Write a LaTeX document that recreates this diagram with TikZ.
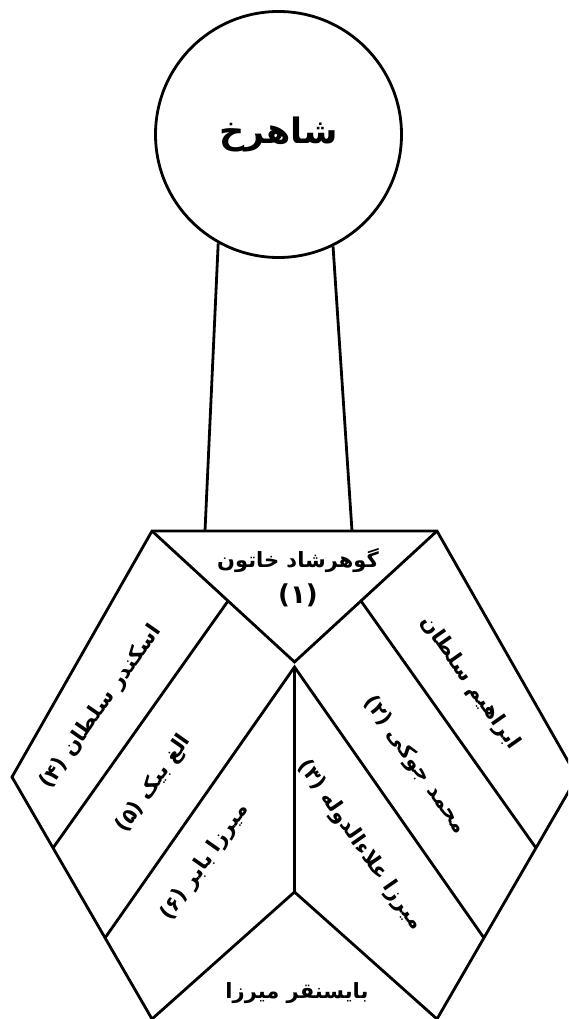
\documentclass[tikz,border=0pt]{standalone}
\usepackage{fontspec}
\newfontfamily\ar[Script=Arabic]{DejaVu Sans}
\TeXXeTstate=1
\begin{document}
\begin{tikzpicture}[x=1pt,y=-1pt,
  edge/.style={line width=2.8pt, line join=miter},
  lbl/.style={font=\ar\bfseries\fontsize{21}{36}\selectfont, inner sep=0pt, align=center},
  leftlbl/.style={lbl, rotate=55},
  rightlbl/.style={lbl, rotate=-55}]
\useasboundingbox (0,0) rectangle (568,1019);
\clip (0,0) rectangle (568,1019);
% root circle
\node[circle, draw, line width=2.8pt, minimum size=246pt, inner sep=0pt,
      font=\ar\bfseries\fontsize{35}{40}\selectfont] (sh) at (278.5,134.5) {\beginR شاهرخ\endR};
% key points
\coordinate (P1) at (205,531);
\coordinate (P2) at (352,531);
\coordinate (TL) at (152,531);
\coordinate (TR) at (437,531);
\coordinate (L)  at (12,777);
\coordinate (R)  at (577,777);
\coordinate (BL) at (152,1019);
\coordinate (BR) at (437,1019);
\coordinate (Ap) at (294.5,662);
\coordinate (J)  at (294.5,667);
\coordinate (Vb) at (294.5,892);
\coordinate (A1) at (228,601);
\coordinate (A2) at (53,848);
\coordinate (C1) at (361,601);
\coordinate (C2) at (536,848);
\coordinate (B2) at (105,938);
\coordinate (D2) at (484,938);
% trunk
\draw[edge] (sh.241.6) -- (P1);
\draw[edge] (sh.296.3) -- (P2);
% outer outline
\draw[edge] (BL) -- (L) -- (TL) -- (TR) -- (R) -- (BR);
% top triangle
\draw[edge] (TL) -- (Ap) -- (TR);
% inner strips
\draw[edge] (A1) -- (A2);
\draw[edge] (C1) -- (C2);
\draw[edge] (B2) -- (J) -- (D2);
\draw[edge] (J) -- (Vb);
\draw[edge] (BL) -- (Vb) -- (BR);
% labels
\node[lbl] (gowhar) at (298,578) {\beginR گوهرشاد خاتون\endR\\{\fontsize{26}{36}\selectfont(۱)}};
\node[leftlbl] (iskandar) at (101,707) {\beginR اسکندر سلطان (۴)\endR};
\node[leftlbl] (ulugh) at (154,784) {\beginR الغ بیک (۵)\endR};
\node[leftlbl] (babur) at (205,862) {\beginR میرزا بابر (۶)\endR};
\node[rightlbl] (ibrahim) at (470,683) {\beginR ابراهیم سلطان\endR};
\node[rightlbl] (jugi) at (415,765) {\beginR محمد جوکی (۲)\endR};
\node[rightlbl] (ala) at (360,845) {\beginR میرزا علاءالدوله (۳)\endR};
\node[lbl] (bay) at (297,993) {\beginR بایسنقر میرزا\endR};
\end{tikzpicture}
\end{document}
